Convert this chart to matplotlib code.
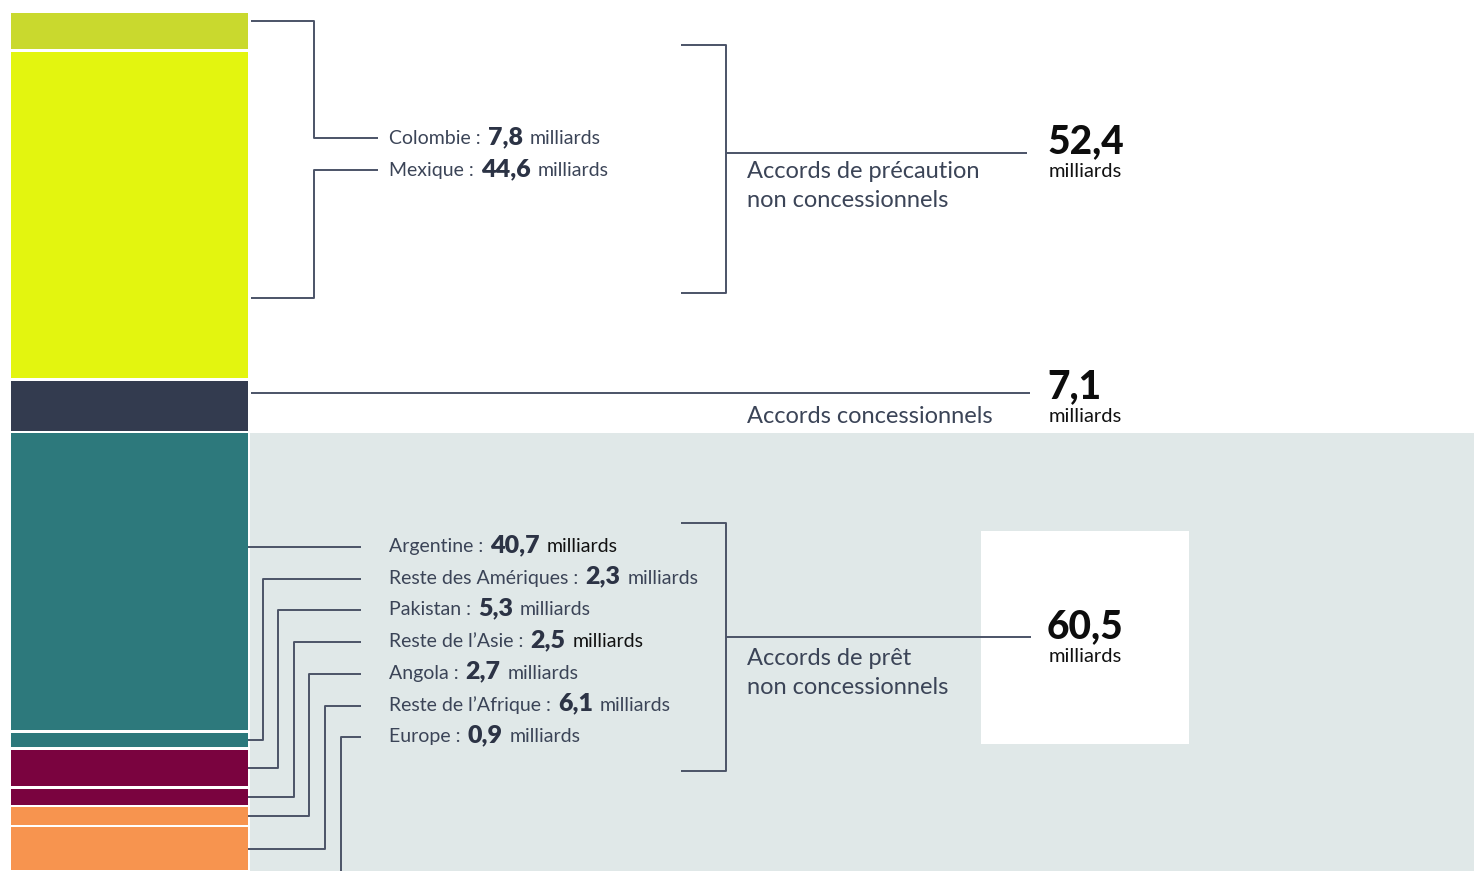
import matplotlib.pyplot as plt

plt.rcParams["font.family"] = ["Lato", "DejaVu Sans"]

# montants en milliards
top_names = ["Colombie", "Mexique"]
top_values = [7.8, 44.6]
conc_value = 7.1
bottom_names = ["Argentine", "Reste des Amériques", "Pakistan", "Reste de l’Asie",
                "Angola", "Reste de l’Afrique", "Europe"]
bottom_values = [40.7, 2.3, 5.3, 2.5, 2.7, 6.1, 0.9]
group_names = [["Accords de précaution", "non concessionnels"],
               ["Accords concessionnels"],
               ["Accords de prêt", "non concessionnels"]]
group_totals = [52.4, 7.1, 60.5]

# couleurs
seg_colors = ["#c9d92e", "#e3f50f", "#333b4f",
              "#2d797c", "#2d797c", "#7a033f", "#7a033f",
              "#f7944f", "#f7944f", "#9aa3ad"]
line_c = "#4b5367"
text_c = "#3b4457"
val_c = "#2c3345"
bg_c = "#e0e8e8"


def fmt(v):
    return f"{v:.1f}".replace(".", ",")


W, H = 1474, 871
fig = plt.figure(figsize=(W / 100, H / 100), dpi=100)
ax = fig.add_axes([0, 0, 1, 1])
ax.set_xlim(0, W)
ax.set_ylim(H, 0)
ax.axis("off")
ax.add_patch(plt.Rectangle((250, 433), W - 250, H - 433, color=bg_c, lw=0))
ax.add_patch(plt.Rectangle((981, 531), 208, 213, color="white", lw=0, zorder=1))

# --- barre empilee (axe a part, coupe en haut a 13 px) ---
scale, off, gap = 7.37, -5.5, 2.5
bax = fig.add_axes([0, 0, 1, (H - 13) / H])
bax.set_xlim(0, W)
bax.set_ylim(H, 13)
bax.axis("off")
bax.patch.set_visible(False)

values = top_values + [conc_value] + bottom_values
cum = 0
mids = []
for v, c in zip(values, seg_colors):
    b = off + cum * scale
    h = v * scale - gap
    bax.bar(11, h, bottom=b, width=237, align="edge", color=c, lw=0)
    mids.append(b + h / 2)
    cum += v

lw = 1.4


def line(pts):
    xs, ys = zip(*pts)
    ax.plot(xs, ys, color=line_c, lw=lw, solid_capstyle="butt", zorder=2)


renderer = fig.canvas.get_renderer()


def label(x, y, name, value, mcol=text_c):
    t = ax.text(x, y, name + " :", fontsize=14, color=text_c, va="baseline")
    x += t.get_window_extent(renderer).width + 7
    t = ax.text(x, y, fmt(value), fontsize=18, fontweight=800, color=val_c, va="baseline")
    x += t.get_window_extent(renderer).width + 7
    ax.text(x, y, "milliards", fontsize=14, color=mcol, va="baseline")


# --- groupe du haut ---
top_attach = [21, 298]
top_rows = [138, 170]
for name, v, a, r in zip(top_names, top_values, top_attach, top_rows):
    line([(251, a), (314, a), (314, r), (378, r)])
    label(389, r + 6, name, v)

line([(681, 45), (726, 45), (726, 293), (681, 293)])
line([(726, 153), (1027, 153)])

# --- accords concessionnels ---
line([(251, 393), (1030, 393)])

# --- groupe du bas ---
row0, step = 547, 31.7
milli_cols = ["#111111", text_c, text_c, "#111111", text_c, text_c, text_c]
for i, (name, v) in enumerate(zip(bottom_names, bottom_values)):
    ry = row0 + i * step
    if i == 0:
        line([(248, ry), (361, ry)])
    else:
        ex = 262.7 + (i - 1) * 15.6
        a = mids[3 + i]
        line([(248, a), (ex, a), (ex, ry), (361, ry)])
    label(389, ry + 5, name, v, milli_cols[i])

line([(681, 523), (726, 523), (726, 771), (681, 771)])
line([(726, 637), (1031, 637)])

# --- libelles de groupe et totaux ---
group_y = [178, 423, 665]
total_y = [153, 398, 638]
for gname, tot, gy, ty in zip(group_names, group_totals, group_y, total_y):
    for k, ln in enumerate(gname):
        ax.text(747, gy + k * 29, ln, fontsize=17, color=text_c, va="baseline", zorder=3)
    ax.text(1047, ty, fmt(tot), fontsize=28, fontweight=900, color="#0d0d0d",
            va="baseline", zorder=3)
    ax.text(1049, ty + 24, "milliards", fontsize=14.5, color="#111111", va="baseline", zorder=3)

fig.savefig("out.png", dpi=100)
